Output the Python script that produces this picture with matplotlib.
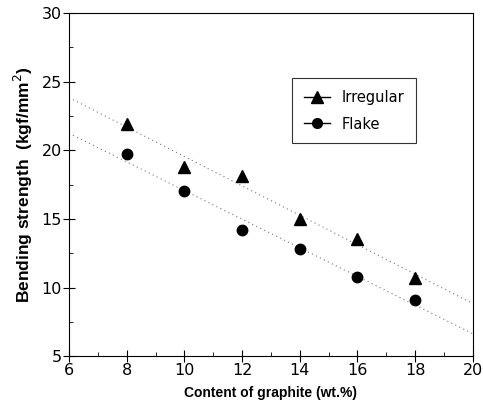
import numpy as np
import matplotlib.pyplot as plt
from matplotlib.lines import Line2D
from matplotlib.ticker import MultipleLocator

# graphite content (wt.%)
content = [8, 10, 12, 14, 16, 18]
# bending strength (kgf/mm^2)
irregular = [21.9, 18.8, 18.1, 15.0, 13.5, 10.7]
flake = [19.7, 17.0, 14.2, 12.8, 10.8, 9.1]

fig = plt.figure(figsize=(4.83, 4.07), dpi=100)
ax = fig.add_axes([0.143, 0.125, 0.836, 0.843])

# linear fits across the whole x range
xfit = np.array([6, 20])
for ys in (irregular, flake):
    k, b = np.polyfit(content, ys, 1)
    ax.plot(xfit, k * xfit + b, ls=(0, (1, 3)), color='#777777', lw=0.8)

ax.plot(content, irregular, '^', color='black', ms=8.5, ls='none')
ax.plot(content, flake, 'o', color='black', ms=7.5, ls='none')

ax.set_xlim(6, 20)
ax.set_ylim(5, 30)
ax.xaxis.set_major_locator(MultipleLocator(2))
ax.xaxis.set_minor_locator(MultipleLocator(1))
ax.yaxis.set_major_locator(MultipleLocator(5))
ax.yaxis.set_minor_locator(MultipleLocator(2.5))
ax.tick_params(which='major', direction='inout', length=8, width=0.8, labelsize=11.5, pad=1)
ax.tick_params(which='minor', direction='in', length=3, width=0.6)
for s in ax.spines.values():
    s.set_linewidth(0.8)

lab = dict(family='Liberation Sans', fontweight='bold')
ax.set_xlabel('Content of graphite (wt.%)', fontsize=10, labelpad=6, **lab)
ax.set_ylabel('Bending strength  (kgf/mm$^2$)', fontsize=12.5, labelpad=5, **lab)

handles = [
    Line2D([], [], color='black', lw=1, marker='^', ms=8),
    Line2D([], [], color='black', lw=1, marker='o', ms=7),
]
leg = ax.legend(handles, ['Irregular', 'Flake'], loc='upper left',
                bbox_to_anchor=(0.552, 0.81), borderaxespad=0, fontsize=10.5,
                frameon=True, fancybox=False, edgecolor='black',
                handlelength=1.8, borderpad=0.8, labelspacing=0.8)
leg.get_frame().set_linewidth(0.8)

fig.savefig('out.png', dpi=100)
